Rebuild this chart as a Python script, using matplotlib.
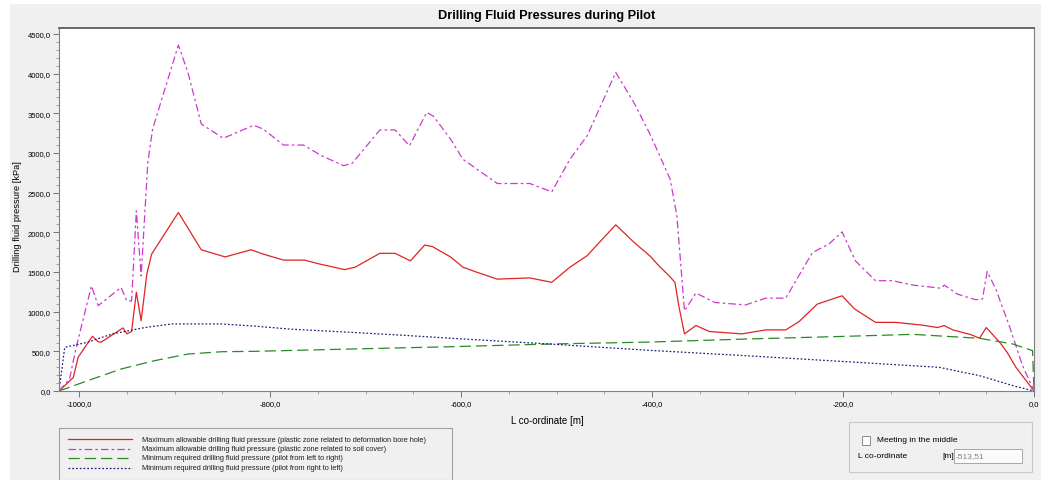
import matplotlib
matplotlib.use("Agg")
import matplotlib.pyplot as plt
from matplotlib.lines import Line2D
from matplotlib.patches import Rectangle
from matplotlib.ticker import MultipleLocator, FuncFormatter

plt.rcParams['font.family'] = ['Liberation Sans', 'DejaVu Sans']

# L co-ordinate [m] / pressure [kPa] along the pilot bore
red_x = [-1021, -1006, -1001, -986, -980, -977, -954, -950, -945, -940,
         -935, -929, -924, -896, -872, -847, -820, -807, -786, -764,
         -748, -722, -711, -685, -669, -653, -638, -630, -611, -598,
         -583, -562, -528, -505, -486, -468, -438, -419, -402, -393,
         -382, -376, -372, -366, -354, -340, -306, -281, -260, -246,
         -227, -201, -188, -166, -145, -117, -101, -94, -85, -66,
         -57, -50, -36, -28, -19, 0]
red_y = [0, 170, 425, 690, 620, 615, 795, 720, 750, 1245,
         885, 1475, 1725, 2250, 1780, 1690, 1780, 1725, 1650, 1650,
         1600, 1530, 1560, 1735, 1735, 1640, 1840, 1820, 1690, 1560,
         1495, 1410, 1425, 1370, 1560, 1705, 2095, 1875, 1700, 1580,
         1450, 1370, 1075, 720, 825, 750, 720, 770, 770, 875,
         1095, 1200, 1035, 865, 865, 830, 800, 825, 770, 710,
         665, 800, 615, 485, 300, 0]

soil_x = [-1021, -1010, -1003, -987, -980, -956, -950, -945, -940, -935,
          -928, -923, -896, -886, -872, -849, -817, -807, -786, -765,
          -746, -723, -714, -685, -669, -654, -636, -629, -611, -598,
          -562, -528, -505, -486, -468, -438, -419, -402, -381, -374,
          -366, -354, -334, -302, -281, -260, -232, -215, -201, -187,
          -166, -148, -127, -97, -94, -80, -61, -54, -49, -40,
          -26, -12, 0]
soil_y = [0, 150, 550, 1325, 1075, 1305, 1135, 1135, 2270, 1450,
          2880, 3300, 4360, 4015, 3365, 3185, 3350, 3300, 3100, 3100,
          2965, 2840, 2870, 3290, 3290, 3090, 3510, 3465, 3175, 2920,
          2615, 2615, 2510, 2920, 3215, 4015, 3635, 3235, 2670, 2210,
          1010, 1235, 1115, 1085, 1170, 1170, 1745, 1850, 2005, 1640,
          1390, 1390, 1335, 1295, 1335, 1220, 1150, 1160, 1505, 1285,
          825, 320, 0]

ltr_x = [-1021, -991, -956, -921, -886, -851, -816, -716, -611, -507,
         -402, -302, -197, -127, -57, -22, -1.5, 0]
ltr_y = [0, 130, 277, 382, 466, 495, 500, 529, 558, 592,
         617, 655, 689, 714, 664, 592, 508, 0]

rtl_x = [-1021, -1015, -991, -965, -931, -903, -851, -816, -779, -716,
         -664, -611, -507, -402, -302, -197, -99, -57, -22, 0]
rtl_y = [0, 550, 615, 720, 800, 845, 845, 818, 780, 740,
         705, 665, 592, 512, 445, 370, 298, 193, 67, 0]

labels = [
    "Maximum allowable drilling fluid pressure (plastic zone related to deformation bore hole)",
    "Maximum allowable drilling fluid pressure (plastic zone related to soil cover)",
    "Minimum required drilling fluid pressure (pilot from left to right)",
    "Minimum required drilling fluid pressure (pilot from right to left)",
]
meeting_value = "-513,51"

W, H = 1041, 481
styles = [
    dict(color="#e02424", linestyle="-"),
    dict(color="#cc3acc", linestyle=(0, (6, 2.5, 2, 2.5))),
    dict(color="#2a8a2a", linestyle=(0, (9, 4))),
    dict(color="#1c1c78", linestyle=(0, (1.4, 1.6))),
]


def fx(px):
    return px / W


def fy(py):
    return 1 - py / H


fig = plt.figure(figsize=(W / 100, H / 100), dpi=100, facecolor="white")
fig.patches.append(Rectangle((fx(10), 0), 1 - fx(10), fy(5), transform=fig.transFigure,
                             facecolor="#f0f0f0", edgecolor="none", zorder=-5))

ax = fig.add_axes([fx(59), fy(392), fx(1034) - fx(59), fy(29) - fy(392)])
ax.set_facecolor("white")

series = [(red_x, red_y), (soil_x, soil_y), (ltr_x, ltr_y), (rtl_x, rtl_y)]
for (xs, ys), st in zip(series, styles):
    ax.plot(xs, ys, lw=0.9, **st)

ax.set_xlim(-1021, 0)
ax.set_ylim(0, 4575)
ax.xaxis.set_major_locator(MultipleLocator(200))
ax.xaxis.set_minor_locator(MultipleLocator(50))
ax.yaxis.set_major_locator(MultipleLocator(500))
ax.yaxis.set_minor_locator(MultipleLocator(100))
comma = FuncFormatter(lambda v, pos: f"{v:.1f}".replace(".", ","))
ax.xaxis.set_major_formatter(comma)
ax.yaxis.set_major_formatter(comma)
ax.tick_params(which="major", length=4, width=0.6, color="#606060", labelsize=5.5, pad=2)
ax.tick_params(which="minor", length=2, width=0.5, color="#808080")
ax.tick_params(axis="x", pad=2.5)
for sp in ax.spines.values():
    sp.set_color("#808080")
    sp.set_linewidth(0.8)
ax.spines["top"].set_color("#505050")
ax.spines["top"].set_linewidth(1.2)

fig.text(fx(547), fy(16), "Drilling Fluid Pressures during Pilot", ha="center", va="center",
         fontsize=9.2, fontweight="bold")
fig.text(fx(18), fy(217), "Drilling fluid pressure [kPa]", rotation=90, ha="center", va="center",
         fontsize=6.7)
fig.text(fx(547), fy(421), "L co-ordinate [m]", ha="center", va="center", fontsize=7)

# legend panel
fig.patches.append(Rectangle((fx(59), fy(481)), fx(452) - fx(59), fy(429) - fy(481),
                             transform=fig.transFigure, facecolor="none",
                             edgecolor="#a0a0a0", lw=0.8))
rows = [440, 449.5, 459, 468.5]
for row, text, st in zip(rows, labels, styles):
    fig.add_artist(Line2D([fx(68), fx(132)], [fy(row), fy(row)], transform=fig.transFigure,
                          lw=0.9, **st))
    fig.text(fx(142), fy(row), text, ha="left", va="center", fontsize=5.3, color="#202020")

# meeting point panel
fig.patches.append(Rectangle((fx(849), fy(473)), fx(1032) - fx(849), fy(423) - fy(473),
                             transform=fig.transFigure, facecolor="#f0f0f0",
                             edgecolor="#c8c8c8", lw=0.8))
fig.patches.append(Rectangle((fx(862), fy(446)), fx(870) - fx(862), fy(437) - fy(446),
                             transform=fig.transFigure, facecolor="white",
                             edgecolor="#8a8a8a", lw=0.7))
fig.text(fx(877), fy(441), "Meeting in the middle", ha="left", va="center", fontsize=6)
fig.text(fx(858), fy(457), "L co-ordinate", ha="left", va="center", fontsize=6)
fig.text(fx(942), fy(457), "[m]", ha="left", va="center", fontsize=6)
fig.patches.append(Rectangle((fx(954), fy(464)), fx(1022) - fx(954), fy(450) - fy(464),
                             transform=fig.transFigure, facecolor="#fbfbfb",
                             edgecolor="#a8a8a8", lw=0.7))
fig.text(fx(956), fy(457), meeting_value, ha="left", va="center", fontsize=6, color="#808080")

fig.savefig("out.png", dpi=100, facecolor=fig.get_facecolor())
